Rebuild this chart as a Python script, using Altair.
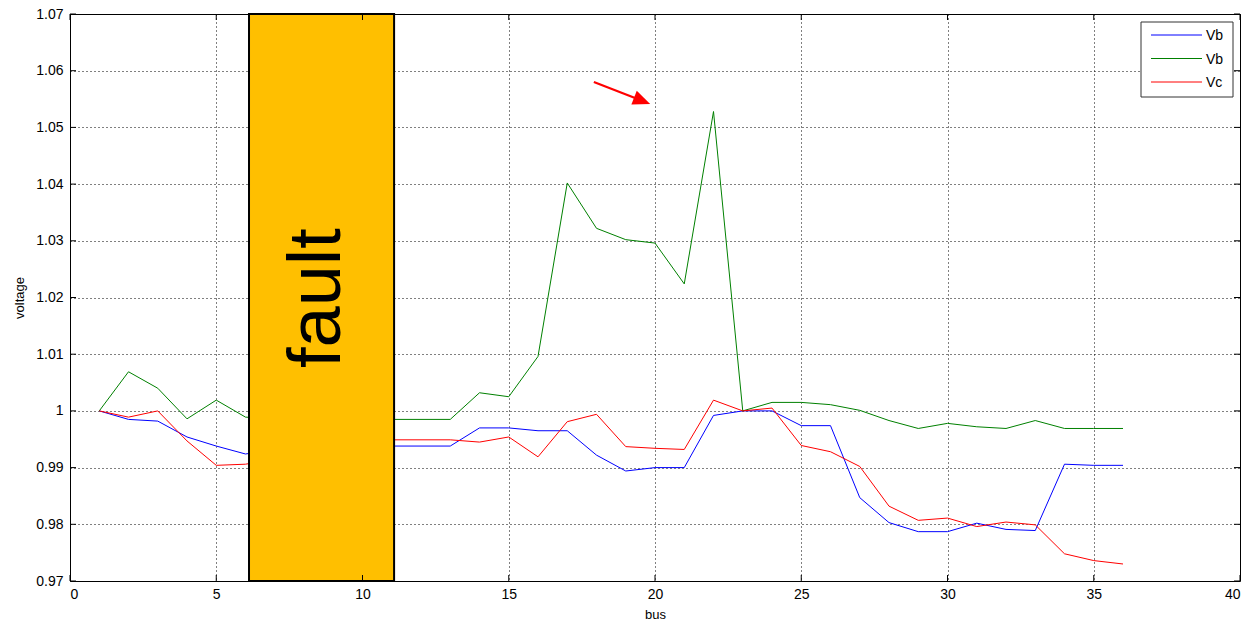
import altair as alt
import pandas as pd

# ---------------- data ----------------
bus = list(range(1, 37))
va = [1.000, 0.9985, 0.9982, 0.9954, 0.9938, 0.9924, 0.9932, 0.9938, 0.9938, 0.9938,
      0.9938, 0.9938, 0.9938, 0.9970, 0.9970, 0.9965, 0.9965, 0.9922, 0.9894, 0.9900,
      0.9900, 0.9992, 1.0000, 1.0000, 0.9974, 0.9974, 0.9847, 0.9803, 0.9787, 0.9787,
      0.9802, 0.9791, 0.9789, 0.9906, 0.9904, 0.9904]
vb = [1.000, 1.0069, 1.0040, 0.9986, 1.0019, 0.9989, 0.9986, 0.9985, 0.9985, 0.9985,
      0.9985, 0.9985, 0.9985, 1.0032, 1.0025, 1.0096, 1.0402, 1.0322, 1.0302, 1.0296,
      1.0224, 1.0528, 1.0000, 1.0015, 1.0015, 1.0011, 1.0001, 0.9983, 0.9969, 0.9978,
      0.9972, 0.9969, 0.9983, 0.9969, 0.9969, 0.9969]
vc = [1.000, 0.9989, 1.0000, 0.9947, 0.9904, 0.9906, 0.9915, 0.9935, 0.9949, 0.9949,
      0.9949, 0.9949, 0.9949, 0.9945, 0.9954, 0.9919, 0.9981, 0.9994, 0.9937, 0.9934,
      0.9932, 1.0019, 1.0000, 1.0005, 0.9939, 0.9928, 0.9902, 0.9832, 0.9807, 0.9811,
      0.9796, 0.9804, 0.9799, 0.9748, 0.9736, 0.9730]

series_keys = ["Va", "Vb", "Vc"]
legend_labels = ["Vb", "Vb", "Vc"]
series_colors = ["#0000FF", "#008000", "#FF0000"]

x_ticks = [0, 5, 10, 15, 20, 25, 30, 35, 40]
y_ticks = [0.97, 0.98, 0.99, 1.00, 1.01, 1.02, 1.03, 1.04, 1.05, 1.06, 1.07]

# annotations
fault_x = [6.12, 11.08]
fault_label = "fault"
fault_label_pos = [9.22, 1.0199]
arrow_start = [17.91, 1.0580]
arrow_head = [19.56, 1.0547]
arrow_angle = 21.5

# ---------------- frames ----------------
rows = []
for key, vals in zip(series_keys, [va, vb, vc]):
    for b, v in zip(bus, vals):
        rows.append({"bus": b, "voltage": v, "series": key})
df = pd.DataFrame(rows)

W, H = 1170, 567
FONT = "Liberation Sans"
xs = alt.Scale(domain=[0, 40], nice=False, zero=False)
ys = alt.Scale(domain=[0.97, 1.07], nice=False, zero=False)
cs = alt.Scale(domain=series_keys, range=series_colors)

lines = alt.Chart(df).mark_line(strokeWidth=1, clip=True).encode(
    x=alt.X("bus:Q", scale=xs, axis=alt.Axis(
        values=x_ticks, title="bus", grid=True, ticks=False, domain=False,
        labelPadding=6, titlePadding=7, format="d")),
    y=alt.Y("voltage:Q", scale=ys, axis=alt.Axis(
        values=y_ticks, title="voltage", grid=True, ticks=False, domain=False,
        labelPadding=7, titlePadding=9, format=".2~f")),
    color=alt.Color("series:N", scale=cs, legend=None),
    detail="series:N",
)

fault_df = pd.DataFrame([{"x": fault_x[0], "x2": fault_x[1], "y": 0.97, "y2": 1.07}])
fault = alt.Chart(fault_df).mark_rect(fill="#FFBF00", stroke="black", strokeWidth=2).encode(
    x=alt.X("x:Q", scale=xs), x2="x2:Q",
    y=alt.Y("y:Q", scale=ys), y2="y2:Q",
)
fault_txt_df = pd.DataFrame([{"x": fault_label_pos[0], "y": fault_label_pos[1], "t": fault_label}])
fault_txt = alt.Chart(fault_txt_df).mark_text(
    angle=270, fontSize=74, font=FONT, align="center", baseline="alphabetic", color="black"
).encode(x=alt.X("x:Q", scale=xs), y=alt.Y("y:Q", scale=ys), text="t:N")

arrow_df = pd.DataFrame([{"x": arrow_start[0], "y": arrow_start[1],
                          "x2": arrow_head[0], "y2": arrow_head[1]}])
arrow_line = alt.Chart(arrow_df).mark_rule(color="#FF0000", strokeWidth=2.2).encode(
    x=alt.X("x:Q", scale=xs), y=alt.Y("y:Q", scale=ys), x2="x2:Q", y2="y2:Q")
arrow_tip = alt.Chart(arrow_df).mark_point(
    shape="M1,0L-1,-0.85L-1,0.85Z", size=300, filled=True, color="#FF0000",
    opacity=1, angle=arrow_angle, strokeWidth=0
).encode(x=alt.X("x2:Q", scale=xs), y=alt.Y("y2:Q", scale=ys))

# inward ticks on all four sides
xt = pd.DataFrame({"t": x_ticks})
yt = pd.DataFrame({"t": y_ticks})
tick_layers = [
    alt.Chart(xt).mark_rule(color="black", strokeWidth=1).encode(
        x=alt.X("t:Q", scale=xs), y=alt.value(H), y2=alt.value(H - 6)),
    alt.Chart(xt).mark_rule(color="black", strokeWidth=1).encode(
        x=alt.X("t:Q", scale=xs), y=alt.value(0), y2=alt.value(6)),
    alt.Chart(yt).mark_rule(color="black", strokeWidth=1).encode(
        y=alt.Y("t:Q", scale=ys), x=alt.value(0), x2=alt.value(6)),
    alt.Chart(yt).mark_rule(color="black", strokeWidth=1).encode(
        y=alt.Y("t:Q", scale=ys), x=alt.value(W), x2=alt.value(W - 6)),
]

# legend (manual, to allow two entries labelled "Vb")
LX0, LX1, LY0, LY1 = 1071, 1163, 8, 83
legend_box = alt.Chart(alt.Data(values=[{"k": 1}])).mark_rect(
    fill="white", stroke="#333333", strokeWidth=1).encode(
    x=alt.value(LX0), x2=alt.value(LX1), y=alt.value(LY0), y2=alt.value(LY1))
legend_layers = [legend_box]
for i, (lab, col) in enumerate(zip(legend_labels, series_colors)):
    yy = 21 + 23.5 * i
    d = alt.Data(values=[{"label": lab}])
    legend_layers.append(alt.Chart(d).mark_rule(color=col, strokeWidth=1).encode(
        x=alt.value(1081), x2=alt.value(1132), y=alt.value(yy)))
    legend_layers.append(alt.Chart(d).mark_text(
        align="left", baseline="middle", fontSize=14, font=FONT, color="black").encode(
        x=alt.value(1136), y=alt.value(yy + 1), text="label:N"))

chart = alt.layer(lines, fault, fault_txt, arrow_line, arrow_tip, *tick_layers, *legend_layers).properties(
    width=W, height=H,
    autosize=alt.AutoSizeParams(type="none"),
    padding={"left": 70, "top": 14, "right": 14, "bottom": 45},
    background="white",
).configure_view(stroke="black", strokeWidth=1).configure_axis(
    gridColor="black", gridDash=[1, 3], gridOpacity=1, gridWidth=1,
    labelFont=FONT, labelFontSize=14, labelColor="black",
    titleFont=FONT, titleFontSize=13, titleFontWeight="normal", titleColor="black",
)

chart.save("out.html", embed_options={"renderer": "svg", "actions": False})
